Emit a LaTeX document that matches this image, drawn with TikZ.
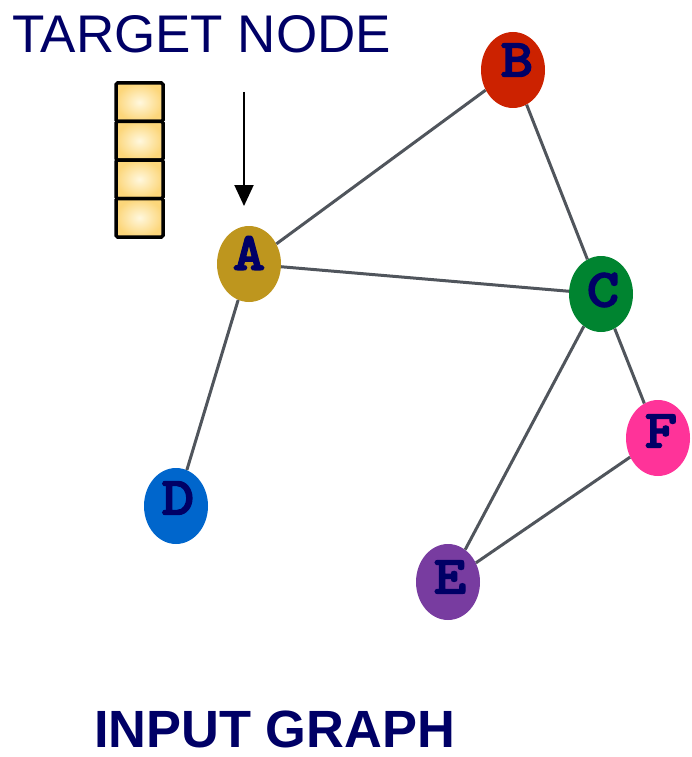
\documentclass[tikz,border=0pt]{standalone}
\usepackage{fontspec}
\setmainfont{Liberation Sans}
\newfontfamily\labelfont{lmmonolt10-bold.otf}[FakeBold=2.5, FakeStretch=1.15]
\usetikzlibrary{shapes.geometric,arrows.meta}

\definecolor{navy}{RGB}{0,0,102}
\definecolor{edgegray}{RGB}{80,85,92}
\definecolor{cA}{RGB}{190,150,30}
\definecolor{cB}{RGB}{204,34,0}
\definecolor{cC}{RGB}{0,132,48}
\definecolor{cD}{RGB}{0,102,204}
\definecolor{cE}{RGB}{120,60,160}
\definecolor{cF}{RGB}{255,51,153}
\definecolor{cellin}{RGB}{255,248,222}
\definecolor{cellout}{RGB}{252,214,122}

\tikzset{
  vertex/.style={ellipse, minimum width=64pt, minimum height=76pt, inner sep=0pt, draw=none},
  vlabel/.style={font=\labelfont\fontsize{54}{54}\selectfont, text=navy, inner sep=0pt},
  link/.style={draw=edgegray, line width=3pt},
  cell/.style={draw=black, line width=3.5pt, rounded corners=1.5pt, shading=radial,
    inner color=cellin, outer color=cellout},
  caption/.style={text=navy, inner sep=0pt, anchor=base west},
}

\begin{document}
\begin{tikzpicture}[x=1pt, y=-1pt]
  \useasboundingbox (0,0) rectangle (692,757);

  % vertices
  \node[vertex, fill=cA] (A) at (249,264) {};
  \node[vertex, fill=cB] (B) at (513,70) {};
  \node[vertex, fill=cC] (C) at (601,294) {};
  \node[vertex, fill=cD] (D) at (176,506) {};
  \node[vertex, fill=cE] (E) at (448,582) {};
  \node[vertex, fill=cF] (F) at (658,438) {};

  % edges
  \draw[link] (A) -- (B);
  \draw[link] (A) -- (C);
  \draw[link] (B) -- (C);
  \draw[link] (A) -- (D);
  \draw[link] (C) -- (E);
  \draw[link] (C) -- (F);
  \draw[link] (E) -- (F);

  % vertex letters
  \node[vlabel] (lA) at (249,253) {A};
  \node[vlabel] (lB) at (517,60) {B};
  \node[vlabel] (lC) at (603,290) {C};
  \node[vlabel] (lD) at (178,498) {D};
  \node[vlabel] (lE) at (450,577) {E};
  \node[vlabel] (lF) at (661,431) {F};

  % feature vector of the target node
  \foreach \i in {0,1,2,3} {
    \path[cell] (116,{83+38.5*\i}) rectangle (163,{83+38.5*(\i+1)});
  }

  % pointer to the target node
  \coordinate (src) at (244,92);
  \coordinate (tgt) at (244,206);
  \draw[line width=2pt, -{Triangle[length=21pt,width=19pt]}] (src) -- (tgt);

  % captions
  \node[caption, font=\fontsize{53}{53}\selectfont] (title) at (12,53) {TARGET NODE};
  \node[caption, font=\bfseries\fontsize{52.4}{52.4}\selectfont] (footer) at (94,747) {INPUT GRAPH};
\end{tikzpicture}
\end{document}
